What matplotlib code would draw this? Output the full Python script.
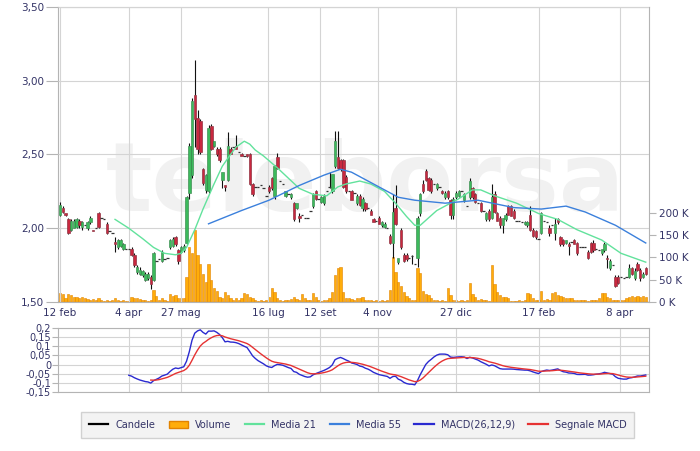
import numpy as np
import pandas as pd
import matplotlib
matplotlib.use('Agg')
import matplotlib.pyplot as plt
from matplotlib.patches import Rectangle, Patch
from matplotlib.lines import Line2D

# ---- dati (prezzi in euro, volumi in migliaia) ----
opens = [
    2.09, 2.14, 2.10, 2.06, 1.99, 2.00, 2.01, 2.05, 2.01, 2.02,
    2.00, 2.04, 1.99, 2.00, 2.10, 2.07, 2.06, 2.03, 1.98, 1.97,
    1.91, 1.87, 1.88, 1.86, 1.86, 1.86, 1.86, 1.82, 1.70, 1.69,
    1.68, 1.65, 1.66, 1.67, 1.65, 1.78, 1.79, 1.78, 1.79, 1.80,
    1.87, 1.88, 1.94, 1.85, 1.84, 1.85, 1.90, 2.24, 2.36, 2.90,
    2.75, 2.73, 2.40, 2.26, 2.25, 2.69, 2.56, 2.54, 2.54, 2.33,
    2.29, 2.33, 2.54, 2.55, 2.56, 2.52, 2.50, 2.49, 2.50, 2.50,
    2.30, 2.28, 2.28, 2.29, 2.27, 2.22, 2.28, 2.34, 2.22, 2.48,
    2.32, 2.30, 2.22, 2.23, 2.21, 2.17, 2.14, 2.08, 2.09, 2.07,
    2.07, 2.12, 2.15, 2.25, 2.20, 2.18, 2.17, 2.25, 2.28, 2.25,
    2.42, 2.48, 2.46, 2.46, 2.35, 2.25, 2.25, 2.24, 2.17, 2.22,
    2.14, 2.17, 2.14, 2.12, 2.06, 2.05, 2.07, 2.02, 2.01, 2.00,
    1.95, 1.90, 2.14, 1.77, 1.99, 1.82, 1.82, 1.80, 1.81, 1.76,
    1.80, 2.10, 2.30, 2.39, 2.34, 2.33, 2.30, 2.27, 2.28, 2.25,
    2.21, 2.25, 2.19, 2.09, 2.21, 2.22, 2.25, 2.19, 2.15, 2.21,
    2.27, 2.23, 2.17, 2.17, 2.12, 2.06, 2.12, 2.07, 2.23, 2.10,
    2.07, 2.02, 2.06, 2.15, 2.15, 2.12, 2.05, 2.05, 2.04, 2.03,
    2.02, 2.09, 1.99, 1.98, 1.93, 1.97, 2.05, 2.04, 2.00, 2.02,
    1.97, 2.06, 1.94, 1.92, 1.90, 1.89, 1.91, 1.92, 1.90, 1.87,
    1.87, 1.87, 1.84, 1.90, 1.90, 1.86, 1.85, 1.83, 1.85, 1.80,
    1.73, 1.75, 1.67, 1.67, 1.67, 1.66, 1.67, 1.67, 1.73, 1.66,
    1.76, 1.72, 1.67, 1.73,
]
highs = [
    2.18, 2.15, 2.10, 2.07, 2.06, 2.06, 2.07, 2.06, 2.05, 2.02,
    2.05, 2.08, 1.99, 2.00, 2.11, 2.07, 2.06, 2.04, 1.98, 1.97,
    1.94, 1.93, 1.93, 1.90, 1.86, 1.86, 1.87, 1.83, 1.75, 1.74,
    1.72, 1.70, 1.70, 1.68, 1.84, 1.78, 1.79, 1.85, 1.79, 1.80,
    1.93, 1.94, 1.95, 1.86, 1.88, 1.89, 2.22, 2.58, 2.88, 3.14,
    2.80, 2.74, 2.41, 2.37, 2.70, 2.71, 2.59, 2.55, 2.55, 2.38,
    2.29, 2.65, 2.55, 2.55, 2.63, 2.52, 2.51, 2.49, 2.50, 2.51,
    2.31, 2.28, 2.28, 2.29, 2.27, 2.22, 2.29, 2.35, 2.43, 2.51,
    2.32, 2.30, 2.25, 2.23, 2.24, 2.18, 2.17, 2.10, 2.09, 2.07,
    2.07, 2.12, 2.24, 2.26, 2.20, 2.22, 2.23, 2.25, 2.38, 2.37,
    2.66, 2.66, 2.47, 2.47, 2.36, 2.25, 2.26, 2.24, 2.23, 2.23,
    2.21, 2.18, 2.14, 2.13, 2.07, 2.05, 2.08, 2.05, 2.04, 2.00,
    1.96, 2.23, 2.29, 1.80, 2.00, 1.83, 1.83, 1.80, 1.82, 1.76,
    2.08, 2.24, 2.33, 2.40, 2.35, 2.34, 2.30, 2.31, 2.28, 2.26,
    2.25, 2.26, 2.20, 2.21, 2.25, 2.26, 2.25, 2.24, 2.15, 2.34,
    2.28, 2.24, 2.17, 2.18, 2.12, 2.11, 2.13, 2.30, 2.25, 2.11,
    2.08, 2.07, 2.10, 2.16, 2.16, 2.13, 2.05, 2.05, 2.04, 2.05,
    2.05, 2.15, 2.00, 1.99, 1.93, 2.11, 2.05, 2.04, 2.02, 2.02,
    2.07, 2.07, 1.95, 1.93, 1.92, 1.91, 1.91, 1.93, 1.91, 1.87,
    1.87, 1.87, 1.85, 1.91, 1.92, 1.86, 1.85, 1.86, 1.91, 1.82,
    1.79, 1.75, 1.68, 1.68, 1.67, 1.66, 1.67, 1.76, 1.74, 1.73,
    1.77, 1.73, 1.70, 1.74,
]
lows = [
    2.08, 2.10, 2.08, 1.96, 1.98, 2.00, 2.00, 2.00, 1.99, 2.02,
    1.99, 2.03, 1.98, 2.00, 2.00, 2.07, 2.06, 1.96, 1.98, 1.97,
    1.84, 1.86, 1.87, 1.85, 1.86, 1.86, 1.81, 1.74, 1.69, 1.68,
    1.67, 1.64, 1.65, 1.59, 1.64, 1.78, 1.79, 1.77, 1.79, 1.80,
    1.86, 1.87, 1.88, 1.76, 1.83, 1.84, 1.89, 2.20, 2.34, 2.55,
    2.50, 2.50, 2.29, 2.24, 2.24, 2.53, 2.55, 2.49, 2.45, 2.27,
    2.25, 2.32, 2.50, 2.55, 2.54, 2.52, 2.49, 2.49, 2.48, 2.29,
    2.22, 2.28, 2.28, 2.29, 2.27, 2.22, 2.24, 2.26, 2.20, 2.40,
    2.32, 2.30, 2.21, 2.23, 2.20, 2.05, 2.13, 2.04, 2.09, 2.07,
    2.07, 2.12, 2.14, 2.19, 2.20, 2.17, 2.16, 2.25, 2.27, 2.24,
    2.41, 2.40, 2.39, 2.27, 2.24, 2.25, 2.19, 2.24, 2.16, 2.15,
    2.12, 2.12, 2.14, 2.09, 2.04, 2.05, 2.03, 2.01, 2.00, 2.00,
    1.89, 1.80, 2.02, 1.76, 1.86, 1.77, 1.78, 1.80, 1.76, 1.76,
    1.74, 2.08, 2.24, 2.32, 2.25, 2.24, 2.30, 2.26, 2.28, 2.23,
    2.20, 2.20, 2.06, 2.06, 2.20, 2.21, 2.25, 2.18, 2.15, 2.20,
    2.20, 2.17, 2.17, 2.11, 2.12, 2.05, 2.05, 2.06, 2.10, 2.05,
    2.00, 1.97, 2.05, 2.09, 2.08, 2.06, 2.05, 2.05, 2.04, 2.02,
    2.01, 1.98, 1.94, 1.93, 1.93, 1.96, 2.05, 2.04, 1.95, 2.02,
    1.92, 2.03, 1.88, 1.88, 1.89, 1.82, 1.91, 1.89, 1.82, 1.87,
    1.87, 1.87, 1.79, 1.83, 1.84, 1.86, 1.85, 1.82, 1.84, 1.73,
    1.72, 1.75, 1.60, 1.62, 1.67, 1.66, 1.67, 1.66, 1.68, 1.65,
    1.71, 1.64, 1.66, 1.68,
]
closes = [
    2.16, 2.11, 2.09, 1.97, 2.05, 2.05, 2.06, 2.02, 2.04, 2.02,
    2.04, 2.07, 1.98, 2.00, 2.01, 2.07, 2.06, 1.97, 1.98, 1.97,
    1.89, 1.92, 1.92, 1.89, 1.86, 1.86, 1.82, 1.75, 1.74, 1.72,
    1.71, 1.69, 1.69, 1.62, 1.83, 1.78, 1.79, 1.84, 1.79, 1.80,
    1.92, 1.93, 1.89, 1.78, 1.87, 1.88, 2.21, 2.56, 2.86, 2.74,
    2.54, 2.52, 2.31, 2.36, 2.68, 2.54, 2.59, 2.50, 2.46, 2.38,
    2.28, 2.56, 2.50, 2.55, 2.54, 2.52, 2.49, 2.49, 2.49, 2.30,
    2.23, 2.28, 2.28, 2.29, 2.27, 2.22, 2.25, 2.27, 2.42, 2.41,
    2.32, 2.30, 2.25, 2.23, 2.23, 2.06, 2.17, 2.07, 2.09, 2.07,
    2.07, 2.12, 2.23, 2.20, 2.20, 2.21, 2.22, 2.25, 2.28, 2.37,
    2.59, 2.41, 2.40, 2.28, 2.25, 2.25, 2.19, 2.24, 2.22, 2.16,
    2.20, 2.13, 2.14, 2.09, 2.04, 2.05, 2.03, 2.04, 2.03, 2.00,
    1.90, 2.11, 2.03, 1.80, 1.87, 1.78, 1.79, 1.80, 1.81, 1.76,
    2.07, 2.23, 2.25, 2.33, 2.26, 2.25, 2.30, 2.30, 2.28, 2.24,
    2.24, 2.21, 2.09, 2.20, 2.24, 2.25, 2.25, 2.23, 2.15, 2.32,
    2.21, 2.18, 2.17, 2.12, 2.12, 2.10, 2.06, 2.21, 2.11, 2.05,
    2.02, 2.07, 2.09, 2.09, 2.08, 2.07, 2.05, 2.05, 2.04, 2.04,
    2.04, 1.99, 1.95, 1.94, 1.93, 2.10, 2.05, 2.04, 1.97, 2.02,
    2.03, 2.04, 1.89, 1.89, 1.92, 1.88, 1.91, 1.89, 1.83, 1.87,
    1.87, 1.87, 1.80, 1.84, 1.85, 1.86, 1.85, 1.86, 1.89, 1.79,
    1.78, 1.75, 1.61, 1.63, 1.67, 1.66, 1.67, 1.73, 1.69, 1.71,
    1.72, 1.66, 1.69, 1.69,
]
volumes_k = [
    20, 18, 8, 17, 15, 12, 12, 10, 12, 8,
    6, 5, 6, 4, 8, 4, 3, 4, 3, 5,
    10, 4, 3, 4, 3, 3, 12, 10, 8, 6,
    5, 4, 3, 5, 27, 14, 5, 8, 4, 3,
    17, 14, 15, 8, 8, 10, 56, 124, 110, 162,
    105, 85, 62, 45, 85, 50, 32, 25, 12, 8,
    23, 15, 8, 5, 10, 5, 8, 20, 18, 12,
    10, 4, 3, 4, 3, 5, 12, 32, 22, 8,
    4, 3, 5, 4, 6, 12, 6, 4, 17, 8,
    5, 4, 20, 12, 4, 3, 5, 4, 8, 22,
    61, 76, 79, 23, 8, 8, 6, 4, 8, 10,
    12, 5, 4, 4, 3, 4, 3, 4, 3, 4,
    27, 101, 67, 45, 35, 23, 14, 8, 4, 5,
    76, 65, 25, 18, 16, 8, 4, 4, 3, 4,
    3, 32, 16, 4, 4, 3, 4, 3, 4, 43,
    18, 12, 4, 6, 4, 4, 3, 83, 40, 23,
    16, 12, 12, 10, 3, 3, 3, 4, 3, 4,
    20, 19, 8, 5, 4, 25, 4, 6, 4, 20,
    22, 16, 14, 12, 10, 8, 8, 4, 4, 4,
    5, 4, 3, 4, 5, 4, 10, 20, 20, 12,
    8, 4, 4, 4, 5, 4, 8, 12, 13, 12,
    13, 12, 13, 12,
]

# medie mobili (indice seduta -> valore)
ma21_bars = [20, 25, 30, 34, 38, 42, 44, 46, 49, 52, 56, 59, 62, 64, 67, 69, 71, 74, 79,
             83, 87, 92, 97, 101, 104, 109, 113, 118, 122, 126, 129, 131, 137, 145, 150,
             153, 158, 166, 174, 181, 188, 197, 204, 213]
ma21_vals = [2.06, 2.00, 1.93, 1.87, 1.83, 1.82, 1.83, 1.87, 1.99, 2.13, 2.30, 2.42, 2.50,
             2.55, 2.59, 2.57, 2.53, 2.49, 2.41, 2.34, 2.27, 2.23, 2.22, 2.28, 2.30, 2.32,
             2.30, 2.25, 2.17, 2.08, 2.02, 2.02, 2.12, 2.20, 2.26, 2.26, 2.22, 2.17, 2.10,
             2.06, 1.99, 1.92, 1.83, 1.77]
ma55_bars = [54, 66, 76, 87, 96, 102, 106, 111, 118, 123, 129, 140, 152, 165, 175, 184,
             191, 202, 213]
ma55_vals = [2.03, 2.12, 2.19, 2.29, 2.36, 2.40, 2.38, 2.33, 2.26, 2.21, 2.19, 2.17, 2.19,
             2.14, 2.13, 2.15, 2.11, 2.02, 1.90]

date_labels = ['12 feb', '4 apr', '27 mag', '16 lug', '12 set', '4 nov', '27 dic', '17 feb', '8 apr']
date_bars = [0, 25.1, 44, 75.6, 94.5, 115.6, 144, 174.2, 203.6]

price_ticks = [1.5, 2.0, 2.5, 3.0, 3.5]
vol_ticks_k = [0, 50, 100, 150, 200]
macd_ticks = [0.2, 0.15, 0.1, 0.05, 0, -0.05, -0.1, -0.15]

# ---- MACD(26,12,9) ----
df = pd.DataFrame({'open': opens, 'high': highs, 'low': lows, 'close': closes,
                   'vol': np.array(volumes_k) * 1000})
ema12 = df['close'].ewm(span=12, adjust=False).mean()
ema26 = df['close'].ewm(span=26, adjust=False).mean()
macd = ema12 - ema26
macd[:25] = np.nan
signal = macd.ewm(span=9, adjust=False, ignore_na=True).mean()
signal[:33] = np.nan

# ---- colori ----
TXT = '#333366'
GRID = '#d4d4d4'
SPINE = '#b4b4b4'
UP = '#3cba5c'
DOWN = '#c9283f'
C_MA21 = '#62e29c'
C_MA55 = '#3b80dc'
C_MACD = '#2a2ad0'
C_SIG = '#e63232'
C_VOL = '#ffad0a'
C_VOL_E = '#e28300'

fig = plt.figure(figsize=(7.0, 4.51), dpi=100)
xlim = (-0.73, 214.2)

# pannello prezzi + volumi
ax_v = fig.add_axes([0.0829, 0.3304, 0.8443, 0.6541])
ax = fig.add_axes([0.0829, 0.3304, 0.8443, 0.6541], sharex=ax_v)
ax_v.set_zorder(1)
ax.set_zorder(2)
ax.patch.set_visible(False)
ax_v.set_facecolor('white')

ax_v.text(0.52, 0.40, 'teleborsa', transform=ax_v.transAxes, ha='center', va='center',
          fontsize=70, fontweight='bold', color='#f1f1f1', zorder=0)
ax_v.bar(df.index, df['vol'], width=0.85, color=C_VOL, edgecolor=C_VOL_E, linewidth=0.4, zorder=2)
ax_v.axhline(0, color=C_VOL_E, lw=1.0, zorder=3)
ax_v.set_ylim(0, 663000)
ax_v.yaxis.tick_right()
ax_v.set_yticks([v * 1000 for v in vol_ticks_k])
ax_v.set_yticklabels(['%d K' % v for v in vol_ticks_k])
ax_v.tick_params(axis='y', colors=SPINE, labelcolor=TXT, labelsize=7.5, length=5, pad=2)
ax_v.tick_params(axis='x', length=0, labelbottom=False)
for s in ax_v.spines.values():
    s.set_color(SPINE)

# candele
for i, r in df.iterrows():
    o, h, l, c = r['open'], r['high'], r['low'], r['close']
    if h > max(o, c):
        ax.vlines(i, max(o, c), h, color='#111111', lw=0.8, zorder=3)
    if l < min(o, c):
        ax.vlines(i, l, min(o, c), color='#111111', lw=0.8, zorder=3)
    if abs(c - o) < 1e-9:
        ax.hlines(o, i - 0.45, i + 0.45, color='#333333', lw=0.9, zorder=4)
    else:
        col = UP if c > o else DOWN
        ec = '#2b7d40' if c > o else '#7d1a2a'
        ax.add_patch(Rectangle((i - 0.45, min(o, c)), 0.9, abs(c - o), facecolor=col,
                               edgecolor=ec, linewidth=0.4, zorder=4))

ax.plot(ma21_bars, ma21_vals, color=C_MA21, lw=1.0, zorder=5)
ax.plot(ma55_bars, ma55_vals, color=C_MA55, lw=1.0, zorder=5)

ax.set_xlim(*xlim)
ax.set_ylim(1.5, 3.5)
ax.set_yticks(price_ticks)
ax.set_yticklabels([('%.2f' % v).replace('.', ',') for v in price_ticks])
ax.set_xticks(date_bars)
ax.set_xticklabels(date_labels)
ax.tick_params(axis='x', length=0, labelcolor=TXT, labelsize=7.5, pad=4)
ax.tick_params(axis='y', colors=SPINE, labelcolor=TXT, labelsize=7.5, length=9, pad=1)
ax.grid(True, color=GRID, lw=0.8)
for s in ax.spines.values():
    s.set_visible(False)

# pannello MACD
ax_m = fig.add_axes([0.0829, 0.1308, 0.8443, 0.1419])
ax_m.plot(df.index, macd, color=C_MACD, lw=1.0, zorder=3)
ax_m.plot(df.index, signal, color=C_SIG, lw=1.0, zorder=3)
ax_m.set_xlim(*xlim)
ax_m.set_ylim(-0.15, 0.2)
ax_m.set_yticks(macd_ticks)
ax_m.set_yticklabels([('%g' % v).replace('.', ',') for v in macd_ticks])
ax_m.set_xticks(date_bars[1:])
ax_m.tick_params(axis='x', length=0, labelbottom=False)
ax_m.tick_params(axis='y', colors=SPINE, labelcolor=TXT, labelsize=7, length=4, pad=1)
ax_m.grid(True, color=GRID, lw=0.8, zorder=0)
for s in ax_m.spines.values():
    s.set_color(SPINE)

# legenda
handles = [
    Line2D([], [], color='black', lw=1.6),
    Patch(facecolor=C_VOL, edgecolor=C_VOL_E),
    Line2D([], [], color=C_MA21, lw=1.6),
    Line2D([], [], color=C_MA55, lw=1.6),
    Line2D([], [], color=C_MACD, lw=1.6),
    Line2D([], [], color=C_SIG, lw=1.6),
]
names = ['Candele', 'Volume', 'Media 21', 'Media 55', 'MACD(26,12,9)', 'Segnale MACD']
leg = fig.legend(handles, names, loc='center', bbox_to_anchor=(0.511, 0.058), ncol=6,
                 fontsize=7, frameon=True, fancybox=False, facecolor='#f1f1f1',
                 edgecolor='#c8c8c8', handlelength=2.0, handletextpad=0.7,
                 columnspacing=1.4, borderpad=0.8)
for t in leg.get_texts():
    t.set_color(TXT)

fig.savefig('out.png', dpi=100)
